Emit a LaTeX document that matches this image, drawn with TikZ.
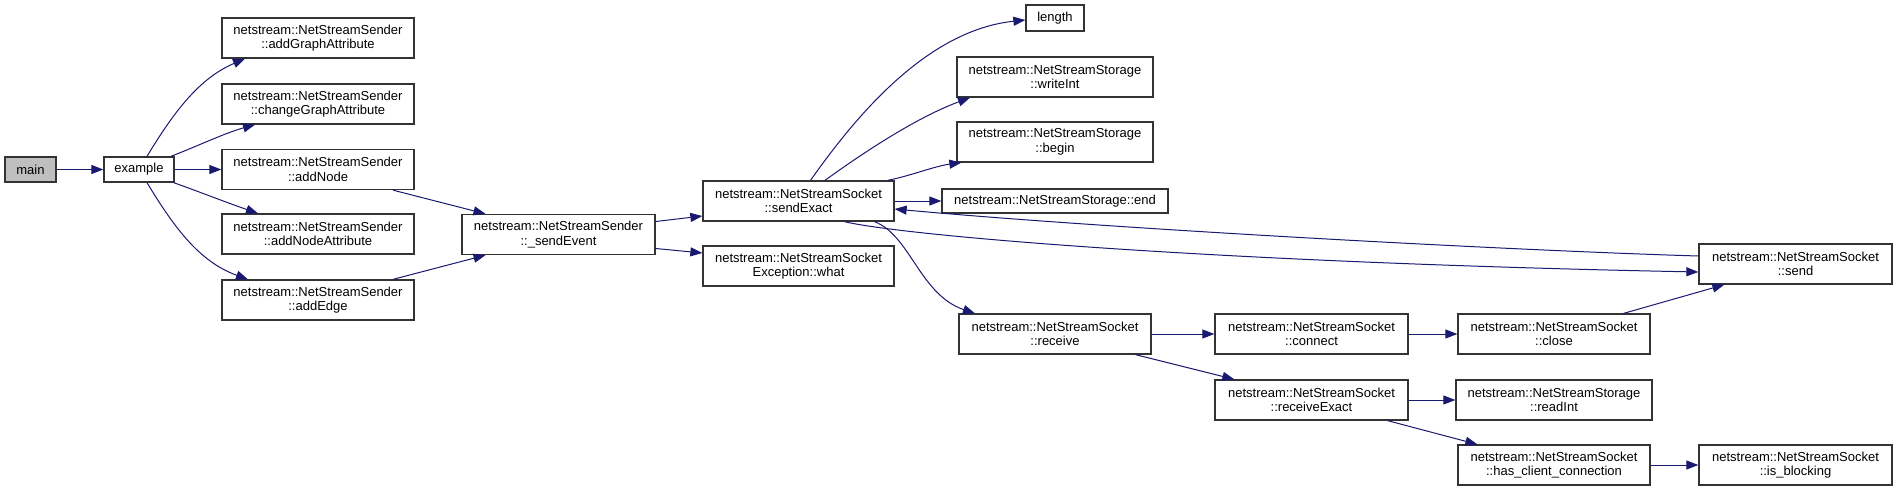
\documentclass[tikz,border=0pt]{standalone}
\usepackage{fontspec}
\setmainfont{Liberation Sans}
\usetikzlibrary{arrows.meta}
\definecolor{edgec}{HTML}{191970}
\definecolor{boxc}{HTML}{333333}
\definecolor{mainfill}{HTML}{BFBFBF}
\tikzset{
  fn/.style={draw=boxc, line width=1.3pt, fill=white, inner sep=0pt, align=center,
    font=\fontsize{13pt}{14.5pt}\selectfont, minimum height=40pt, minimum width=192pt},
  fnone/.style={fn, minimum height=25pt},
  call/.style={draw=edgec, line width=1pt, -{Triangle[length=12pt,width=9pt]}},
}
\begin{document}
\begin{tikzpicture}[x=1pt,y=-1pt]
\useasboundingbox (0,0) rectangle (1897,491);
% nodes
\node[fnone, fill=mainfill, minimum width=51pt] (main) at (30.5,169.5) {main};
\node[fnone, minimum width=70pt] (ex) at (139,169.5) {example};
\node[fn] (aGA) at (318,38) {netstream::NetStreamSender\\::addGraphAttribute};
\node[fn] (cGA) at (318,104) {netstream::NetStreamSender\\::changeGraphAttribute};
\node[fn] (aN) at (318,169.5) {netstream::NetStreamSender\\::addNode};
\node[fn] (aNA) at (318,234) {netstream::NetStreamSender\\::addNodeAttribute};
\node[fn] (aE) at (318,300) {netstream::NetStreamSender\\::addEdge};
\node[fn, minimum width=193pt] (sE) at (558.5,234.5) {netstream::NetStreamSender\\::\_sendEvent};
\node[fn, minimum width=191pt] (sX) at (798.5,201) {netstream::NetStreamSocket\\::sendExact};
\node[fn, minimum width=191pt] (what) at (798.5,266) {netstream::NetStreamSocket\\Exception::what};
\node[fnone, minimum width=58pt, minimum height=26pt] (len) at (1055,18) {length};
\node[fn, minimum width=196pt] (wI) at (1055,77) {netstream::NetStreamStorage\\::writeInt};
\node[fn, minimum width=196pt] (beg) at (1055,142) {netstream::NetStreamStorage\\::begin};
\node[fnone, minimum width=226pt, minimum height=24pt] (end) at (1055,201) {netstream::NetStreamStorage::end};
\node[fn] (rcv) at (1055,334) {netstream::NetStreamSocket\\::receive};
\node[fn, minimum width=193pt] (con) at (1311.5,334) {netstream::NetStreamSocket\\::connect};
\node[fn, minimum width=193pt] (rX) at (1311.5,400) {netstream::NetStreamSocket\\::receiveExact};
\node[fn] (cls) at (1554,334) {netstream::NetStreamSocket\\::close};
\node[fn, minimum width=196pt] (rI) at (1554,400) {netstream::NetStreamStorage\\::readInt};
\node[fn] (hcc) at (1554,465) {netstream::NetStreamSocket\\::has\_client\_connection};
\node[fn, minimum width=193pt] (snd) at (1795.5,264) {netstream::NetStreamSocket\\::send};
\node[fn, minimum width=193pt] (blk) at (1795.5,465) {netstream::NetStreamSocket\\::is\_blocking};
% edges
\draw[call] (main.east) -- (ex.west);
\draw[call] ([xshift=8pt]ex.north) .. controls (175,110) and (200,78) .. ([xshift=-73pt]aGA.south);
\draw[call] ([xshift=32pt]ex.north) .. controls (200,145) and (225,133) .. ([xshift=-63pt]cGA.south);
\draw[call] (ex.east) -- (ex.east -| aN.west);
\draw[call] ([xshift=-1pt]ex.south east) .. controls (200,192) and (225,202) .. ([xshift=-60pt]aNA.north);
\draw[call] ([xshift=8pt]ex.south) .. controls (175,229) and (200,262) .. ([xshift=-70pt]aE.north);
\draw[call] ([xshift=75pt]aN.south) -- ([xshift=-73pt]sE.north);
\draw[call] ([xshift=75pt]aE.north) -- ([xshift=-73pt]sE.south);
\draw[call] ([yshift=13pt]sE.east) -- ([yshift=-15pt]sX.west);
\draw[call] ([yshift=-14pt]sE.east) -- ([yshift=13pt]what.west);
\draw[call] ([xshift=12pt]sX.north) .. controls (860,110) and (930,30) .. ([yshift=-2pt]len.west);
\draw[call] ([xshift=26.5pt]sX.north) .. controls (860,155) and (915,118) .. ([xshift=-85pt]wI.south);
\draw[call] ([xshift=-7pt]sX.north east) .. controls (910,176) and (935,166) .. ([xshift=5pt]beg.south west);
\draw[call] (sX.east) -- (end.west);
\draw[call] ([yshift=8pt]snd.west) .. controls (1500,250) and (1100,228) .. ([yshift=-8pt]sX.east);
\draw[call] ([xshift=46pt]sX.south) .. controls (900,235) and (1200,262) .. ([yshift=-8pt]snd.west);
\draw[call] ([xshift=76pt]sX.south) .. controls (910,235) and (920,295) .. ([xshift=-80pt]rcv.north);
\draw[call] (rcv.east) -- (con.west);
\draw[call] ([xshift=-16pt]rcv.south east) -- ([xshift=20pt]rX.north west);
\draw[call] (con.east) -- (cls.west);
\draw[call] ([xshift=-27pt]cls.north east) -- ([xshift=26pt]snd.south west);
\draw[call] (rX.east) -- (rI.west);
\draw[call] ([xshift=-21pt]rX.south east) -- ([xshift=20pt]hcc.north west);
\draw[call] (hcc.east) -- (blk.west);
\end{tikzpicture}
\end{document}
